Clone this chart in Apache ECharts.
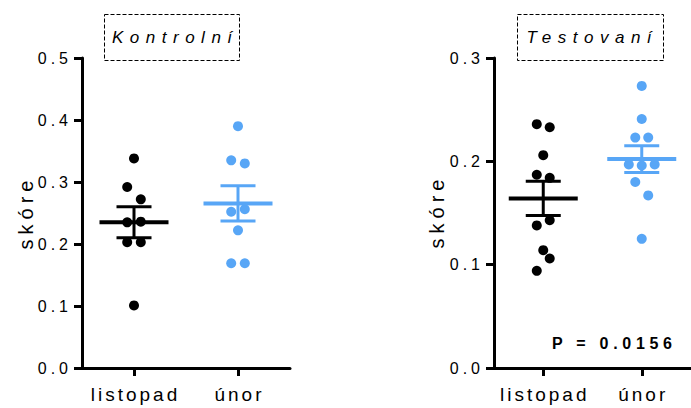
<!DOCTYPE html>
<html>
<head>
<meta charset="utf-8">
<script src="https://cdn.jsdelivr.net/npm/echarts@6/dist/echarts.min.js"></script>
<style>
html,body{margin:0;padding:0;background:#fff;}
#c{width:691px;height:408px;}
</style>
</head>
<body>
<div id="c"></div>
<script>
// ---- data ----
const categories = ['listopad', 'únor'];
const panelTitles = ['Kontrolní', 'Testovaní'];
const yAxisTitle = 'skóre';
const pValueLabel = 'P = 0.0156';

const kontrolYMax = 0.5;
const testYMax = 0.3;
const yStep = 0.1;

const kontrolListopad = [0.338, 0.292, 0.272, 0.235, 0.236, 0.203, 0.203, 0.101];
const kontrolUnor     = [0.390, 0.335, 0.330, 0.252, 0.256, 0.222, 0.169, 0.169];
const testListopad    = [0.236, 0.233, 0.206, 0.187, 0.184, 0.138, 0.143, 0.114, 0.106, 0.094];
const testUnor        = [0.273, 0.241, 0.223, 0.223, 0.197, 0.196, 0.197, 0.180, 0.167, 0.125];

// scatter spread slots (left/right of the category centre) for overlapping points
const kontrolListopadSlots = [0, -1, 1, -1, 1, -1, 1, 0];
const kontrolUnorSlots     = [0, -1, 1, -1, 1, 0, -1, 1];
const testListopadSlots    = [-1, 1, 0, -1, 1, -1, 1, 0, 1, -1];
const testUnorSlots        = [0, 0, -1, 1, -2, 0, 2, -1, 1, 0];

// ---- styles ----
const FONT = "'Liberation Sans', Arial, Helvetica, sans-serif";
const BLACK = '#000000';
const BLUE = '#58a6f6';
const SLOT_PX = 6.8;
const grids = [
  {left: 82, top: 58, width: 208, height: 310},
  {left: 494, top: 58, width: 207, height: 310}
];

function mean(a){ return a.reduce((s,v)=>s+v,0)/a.length; }
function sem(a){
  const m = mean(a);
  const v = a.reduce((s,x)=>s+(x-m)*(x-m),0)/(a.length-1);
  return Math.sqrt(v/a.length);
}
function points(values, slots, catIdx, gridW){
  const catPx = gridW / categories.length;
  return values.map((v,i)=>[catIdx + slots[i]*SLOT_PX/catPx, v]);
}

function yAxis(gi, max){
  return {
    gridIndex: gi, type: 'value', min: 0, max: max, interval: yStep,
    axisLine: {show: true, onZero: false, lineStyle: {color: BLACK, width: 3}},
    axisTick: {show: true, length: 8, lineStyle: {color: BLACK, width: 3}},
    splitLine: {show: false},
    axisLabel: {color: BLACK, fontSize: 16, fontFamily: FONT, margin: 10,
      formatter: v => v.toFixed(1)}
  };
}
function catAxis(gi){
  return {
    gridIndex: gi, type: 'category', data: categories, position: 'bottom',
    boundaryGap: true,
    axisLine: {show: true, onZero: false, lineStyle: {color: BLACK, width: 3}},
    axisTick: {show: true, alignWithLabel: true, length: 8, lineStyle: {color: BLACK, width: 3}},
    axisLabel: {color: BLACK, fontSize: 19, fontFamily: FONT, margin: 17, padding: [0,0,0,3]},
    splitLine: {show: false}
  };
}
function valAxis(gi){
  return {gridIndex: gi, type: 'value', min: -0.5, max: 1.5, show: false, position: 'bottom',
    axisLine: {onZero: false}};
}

function scatter(xi, yi, data, color){
  return {type: 'scatter', xAxisIndex: xi, yAxisIndex: yi, data: data,
    symbol: 'circle', symbolSize: 10, itemStyle: {color: color, opacity: 1}, z: 3, silent: true};
}
function meanBar(xi, yi, catIdx, values, color){
  return {
    type: 'custom', xAxisIndex: xi, yAxisIndex: yi, z: 4, silent: true,
    data: [[catIdx, mean(values), sem(values)]],
    renderItem: function(params, api){
      const x = api.value(0), m = api.value(1), s = api.value(2);
      const c = api.coord([x, m]);
      const t = api.coord([x, m + s]);
      const b = api.coord([x, m - s]);
      const st = {stroke: color, lineWidth: 3, fill: null};
      return {type: 'group', children: [
        {type: 'line', shape: {x1: c[0]-34.5, y1: c[1], x2: c[0]+34.5, y2: c[1]}, style: {stroke: color, lineWidth: 4}},
        {type: 'line', shape: {x1: c[0], y1: t[1], x2: c[0], y2: b[1]}, style: st},
        {type: 'line', shape: {x1: c[0]-17.5, y1: t[1], x2: c[0]+17.5, y2: t[1]}, style: st},
        {type: 'line', shape: {x1: c[0]-17.5, y1: b[1], x2: c[0]+17.5, y2: b[1]}, style: st}
      ]};
    }
  };
}

const chart = echarts.init(document.getElementById('c'), null, {renderer: 'svg'});
chart.setOption({
  animation: false,
  backgroundColor: '#ffffff',
  grid: grids.map(g => Object.assign({containLabel: false}, g)),
  xAxis: [catAxis(0), valAxis(0), catAxis(1), valAxis(1)],
  yAxis: [yAxis(0, kontrolYMax), yAxis(1, testYMax)],
  series: [
    scatter(1, 0, points(kontrolListopad, kontrolListopadSlots, 0, grids[0].width), BLACK),
    scatter(1, 0, points(kontrolUnor, kontrolUnorSlots, 1, grids[0].width), BLUE),
    scatter(3, 1, points(testListopad, testListopadSlots, 0, grids[1].width), BLACK),
    scatter(3, 1, points(testUnor, testUnorSlots, 1, grids[1].width), BLUE),
    meanBar(1, 0, 0, kontrolListopad, BLACK),
    meanBar(1, 0, 1, kontrolUnor, BLUE),
    meanBar(3, 1, 0, testListopad, BLACK),
    meanBar(3, 1, 1, testUnor, BLUE)
  ],
  graphic: [
    {type: 'rect', shape: {x: 104.5, y: 14.5, width: 135, height: 46},
      style: {fill: 'none', stroke: BLACK, lineWidth: 1, lineDash: [4, 2]}},
    {type: 'rect', shape: {x: 517.5, y: 14.5, width: 146, height: 46},
      style: {fill: 'none', stroke: BLACK, lineWidth: 1, lineDash: [4, 2]}},
    {type: 'text', x: 175.3, y: 37, style: {text: panelTitles[0], fill: BLACK,
      font: 'italic 17px ' + FONT, align: 'center', verticalAlign: 'middle'}},
    {type: 'text', x: 592.3, y: 37, style: {text: panelTitles[1], fill: BLACK,
      font: 'italic 17px ' + FONT, align: 'center', verticalAlign: 'middle'}},
    {type: 'text', x: 25.5, y: 212.5, rotation: Math.PI/2, style: {text: yAxisTitle, fill: BLACK,
      font: '20px ' + FONT, align: 'center', verticalAlign: 'middle'}},
    {type: 'text', x: 436.5, y: 211.5, rotation: Math.PI/2, style: {text: yAxisTitle, fill: BLACK,
      font: '20px ' + FONT, align: 'center', verticalAlign: 'middle'}},
    {type: 'text', x: 614.4, y: 343, style: {text: pValueLabel, fill: BLACK,
      font: 'bold 16px ' + FONT, align: 'center', verticalAlign: 'middle'}}
  ]
});

function applySpacing(){
  const texts = chart.getDom().querySelectorAll('text');
  texts.forEach(t => {
    const s = (t.textContent || '').trim();
    let ls = null;
    if (panelTitles.indexOf(s) >= 0) ls = 6.5;
    else if (s === yAxisTitle) ls = 5;
    else if (s === pValueLabel) ls = 4.7;
    else if (categories.indexOf(s) >= 0) ls = 3;
    else if (/^\d\.\d$/.test(s)) ls = 4;
    if (ls !== null) t.setAttribute('letter-spacing', ls);
  });
}
chart.on('finished', applySpacing);
applySpacing();
setTimeout(applySpacing, 0);
setTimeout(applySpacing, 50);
</script>
</body>
</html>
